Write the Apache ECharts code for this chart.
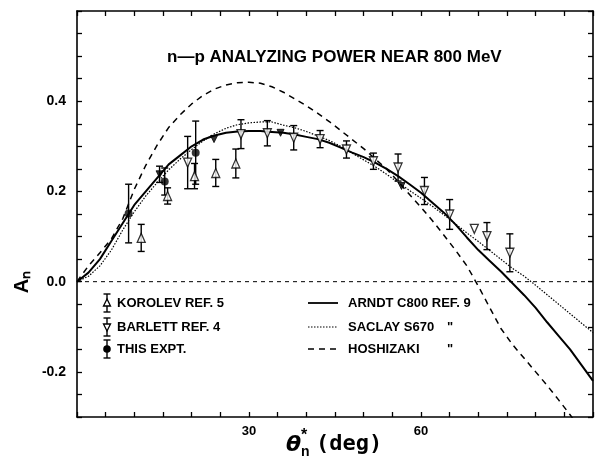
<!DOCTYPE html>
<html><head><meta charset="utf-8">
<script src="https://cdn.jsdelivr.net/npm/echarts@6/dist/echarts.min.js"></script>
<style>html,body{margin:0;padding:0;background:#fff}#c{width:596px;height:459px}</style>
</head><body><div id="c"></div>
<script>
// curve abscissae (deg)
const curveX = [0,2,4,6,8,10,12,14,16,18,20,22,24,26,28,30,32,34,36,38,40,42,44,46,48,50,52,54,56,58,60,62,64,66,68,70,72,74,76,78,80,82,84,86,88,90];
const arndt = [0,0.02,0.05,0.09,0.13,0.17,0.20,0.23,0.26,0.28,0.30,0.315,0.324,0.33,0.333,0.334,0.334,0.332,0.330,0.326,0.321,0.316,0.308,0.297,0.286,0.276,0.264,0.25,0.234,0.216,0.197,0.175,0.153,0.127,0.098,0.07,0.046,0.022,-0.004,-0.03,-0.058,-0.09,-0.12,-0.15,-0.185,-0.22];
const saclay = [0,0.012,0.035,0.07,0.115,0.155,0.19,0.22,0.248,0.272,0.293,0.312,0.328,0.34,0.348,0.352,0.354,0.354,0.347,0.341,0.333,0.323,0.313,0.30,0.285,0.27,0.255,0.238,0.22,0.202,0.185,0.167,0.148,0.128,0.108,0.089,0.069,0.049,0.029,0.012,-0.008,-0.029,-0.05,-0.071,-0.092,-0.113];
const hoshizaki = [0,0.035,0.064,0.095,0.14,0.205,0.258,0.303,0.342,0.37,0.394,0.413,0.427,0.436,0.441,0.442,0.44,0.432,0.42,0.405,0.39,0.373,0.355,0.335,0.315,0.295,0.272,0.25,0.222,0.193,0.165,0.135,0.103,0.07,0.035,-0.01,-0.058,-0.105,-0.14,-0.17,-0.2,-0.23,-0.262,-0.295,-0.33,-0.36];

// Korolev (open up-triangles)
const korolevX = [11.2,15.8,20.5,24.2,27.7];
const korolevY = [0.097,0.19,0.234,0.241,0.262];
const korolevE = [0.03,0.018,0.028,0.03,0.032];
// Barlett (open down-triangles)
const barlettX = [19.3,28.6,33.2,37.8,42.4,47.0,51.7,56.0,60.6,65.0,69.3,71.5,75.5];
const barlettY = [0.264,0.327,0.329,0.319,0.316,0.293,0.267,0.253,0.201,0.149,0.117,0.101,0.064];
const barlettE = [0.058,0.032,0.028,0.027,0.019,0.019,0.018,0.03,0.03,0.033,0,0.03,0.042];
// small filled down-triangles
const smallX = [14.4,23.9,35.5,56.6];
const smallY = [0.238,0.316,0.330,0.212];
const smallE = [0.018,0,0,0];
// This experiment (filled circles)
const thisX = [9.0,15.3,20.7];
const thisY = [0.151,0.222,0.286];
const thisE = [0.065,0.03,0.07];

const yTickLabels = ['-0.2','0.0','0.2','0.4'];
const xTickLabels = ['30','60'];

const pairs = (xs, ys) => xs.map((x,i)=>[x, ys[i]]);
const triples = (xs, ys, es) => xs.map((x,i)=>[x, ys[i], es[i]]);

function errRender(params, api){
  const x=api.value(0), y=api.value(1), e=api.value(2);
  if(!e) return null;
  const t=api.coord([x,y+e]), b=api.coord([x,y-e]);
  const w=3.5, st={stroke:'#000',lineWidth:1.4};
  return {type:'group',children:[
    {type:'line',shape:{x1:t[0],y1:t[1],x2:b[0],y2:b[1]},style:st},
    {type:'line',shape:{x1:t[0]-w,y1:t[1],x2:t[0]+w,y2:t[1]},style:st},
    {type:'line',shape:{x1:b[0]-w,y1:b[1],x2:b[0]+w,y2:b[1]},style:st}
  ]};
}
function errSeries(data){
  return {type:'custom',renderItem:errRender,data:data,encode:{x:0,y:1},z:3,silent:true};
}

const FONT = 'Liberation Sans';
const chart = echarts.init(document.getElementById('c'));
const axisCommon = {
  min:0,max:90,interval:5,
  axisLine:{onZero:false,lineStyle:{color:'#000',width:1.6}},
  axisTick:{inside:true,length:5,lineStyle:{color:'#000',width:1.3}},
  splitLine:{show:false}
};
const yCommon = {
  min:-0.3,max:0.6,interval:0.05,
  axisLine:{onZero:false,lineStyle:{color:'#000',width:1.6}},
  axisTick:{inside:true,length:5,lineStyle:{color:'#000',width:1.3}},
  splitLine:{show:false}
};
const lineSeries = (data, style) => ({type:'line',data:data,showSymbol:false,smooth:false,clip:true,lineStyle:Object.assign({color:'#000'},style),z:2,silent:true});

// legend graphics
const legendEls = [];
const ly = [303,327,349];
const lx = 107;
['tri','dtri','dot'].forEach((k,i)=>{
  const y=ly[i];
  const st={stroke:'#000',lineWidth:1.4};
  legendEls.push({type:'line',shape:{x1:lx,y1:y-9,x2:lx,y2:y+9},style:st});
  legendEls.push({type:'line',shape:{x1:lx-3.5,y1:y-9,x2:lx+3.5,y2:y-9},style:st});
  legendEls.push({type:'line',shape:{x1:lx-3.5,y1:y+9,x2:lx+3.5,y2:y+9},style:st});
  if(k==='tri') legendEls.push({type:'polygon',shape:{points:[[lx,y-4],[lx-3.5,y+3],[lx+3.5,y+3]]},style:{fill:'#fff',stroke:'#000',lineWidth:1.3}});
  if(k==='dtri') legendEls.push({type:'polygon',shape:{points:[[lx,y+4],[lx-3.5,y-3],[lx+3.5,y-3]]},style:{fill:'#fff',stroke:'#000',lineWidth:1.3}});
  if(k==='dot') legendEls.push({type:'circle',shape:{cx:lx,cy:y,r:3.8},style:{fill:'#000'}});
});
const leftNames = ['KOROLEV REF. 5','BARLETT REF. 4','THIS EXPT.'];
leftNames.forEach((t,i)=>legendEls.push({type:'text',x:117,y:ly[i],style:{text:t,font:'bold 13px '+FONT,fill:'#000',textVerticalAlign:'middle'}}));
const rightNames = ['ARNDT C800 REF. 9','SACLAY S670','HOSHIZAKI'];
const rightDash = [null,[1.5,1.5],[6,5]];
const rightW = [1.8,1.2,1.5];
rightNames.forEach((t,i)=>{
  legendEls.push({type:'line',shape:{x1:308,y1:ly[i],x2:338,y2:ly[i]},style:{stroke:'#000',lineWidth:rightW[i],lineDash:rightDash[i]}});
  legendEls.push({type:'text',x:348,y:ly[i],style:{text:t,font:'bold 13px '+FONT,fill:'#000',textVerticalAlign:'middle'}});
  if(i>0) legendEls.push({type:'text',x:447,y:ly[i],style:{text:'"',font:'bold 13px '+FONT,fill:'#000',textVerticalAlign:'middle'}});
});
// axis names
legendEls.push({type:'text',x:22,y:282,rotation:Math.PI/2,style:{text:'Aₙ',font:'bold 20px '+FONT,fill:'#000',textAlign:'center',textVerticalAlign:'middle'}});
legendEls.push({type:'text',x:286,y:445,style:{text:'θ',font:'italic bold 22px DejaVu Sans',fill:'#000',textVerticalAlign:'middle'}});
legendEls.push({type:'text',x:301,y:436,style:{text:'*',font:'bold 16px '+FONT,fill:'#000',textVerticalAlign:'middle'}});
legendEls.push({type:'text',x:301,y:452,style:{text:'n',font:'bold 14px '+FONT,fill:'#000',textVerticalAlign:'middle'}});
legendEls.push({type:'text',x:316,y:444,style:{text:'(deg)',font:'bold 22px DejaVu Sans Mono',fill:'#000',textVerticalAlign:'middle'}});

chart.setOption({
  backgroundColor:'#fff',
  animation:false,
  title:{text:'n—p ANALYZING POWER NEAR 800 MeV',left:167,top:49,padding:0,textStyle:{fontFamily:FONT,fontSize:17,fontWeight:'bold',color:'#000'}},
  grid:{left:77,right:1,top:11,bottom:42},
  xAxis:[
    Object.assign({type:'value',position:'bottom',
      axisLabel:{margin:8,color:'#000',fontFamily:FONT,fontWeight:'bold',fontSize:13,
        formatter:v=>{const s=String(Math.round(v));return xTickLabels.includes(s)?s:'';}}},axisCommon),
    Object.assign({type:'value',position:'top',axisLabel:{show:false}},axisCommon)
  ],
  yAxis:[
    Object.assign({type:'value',position:'left',
      axisLabel:{margin:11,color:'#000',fontFamily:FONT,fontWeight:'bold',fontSize:14,
        formatter:v=>{const s=(Math.round(v*100)/100).toFixed(1);return yTickLabels.includes(s)&&Math.abs(v*10-Math.round(v*10))<1e-6?s:'';}}},yCommon),
    Object.assign({type:'value',position:'right',axisLabel:{show:false}},yCommon)
  ],
  graphic:legendEls,
  series:[
    {type:'line',data:[[0,0],[90,0]],showSymbol:false,lineStyle:{color:'#000',width:1,type:[4,4]},silent:true,z:1},
    lineSeries(pairs(curveX,arndt),{width:2}),
    lineSeries(pairs(curveX,saclay),{width:1.2,type:[1.5,1.5]}),
    lineSeries(pairs(curveX,hoshizaki),{width:1.5,type:[6,5]}),
    errSeries(triples(korolevX,korolevY,korolevE)),
    errSeries(triples(barlettX,barlettY,barlettE)),
    errSeries(triples(smallX,smallY,smallE)),
    errSeries(triples(thisX,thisY,thisE)),
    {type:'scatter',name:'KOROLEV REF. 5',data:pairs(korolevX,korolevY),symbol:'triangle',symbolSize:[8,9],itemStyle:{color:'#fff',borderColor:'#000',borderWidth:1.3},z:4},
    {type:'scatter',name:'BARLETT REF. 4',data:pairs(barlettX,barlettY),symbol:'triangle',symbolRotate:180,symbolSize:[8,9],itemStyle:{color:'#fff',borderColor:'#000',borderWidth:1.3},z:4},
    {type:'scatter',data:pairs(smallX,smallY),symbol:'triangle',symbolRotate:180,symbolSize:[7,7],itemStyle:{color:'#000',borderColor:'#000',borderWidth:1},z:4},
    {type:'scatter',name:'THIS EXPT.',data:pairs(thisX,thisY),symbol:'circle',symbolSize:8,itemStyle:{color:'#000'},z:4}
  ]
});
</script></body></html>
